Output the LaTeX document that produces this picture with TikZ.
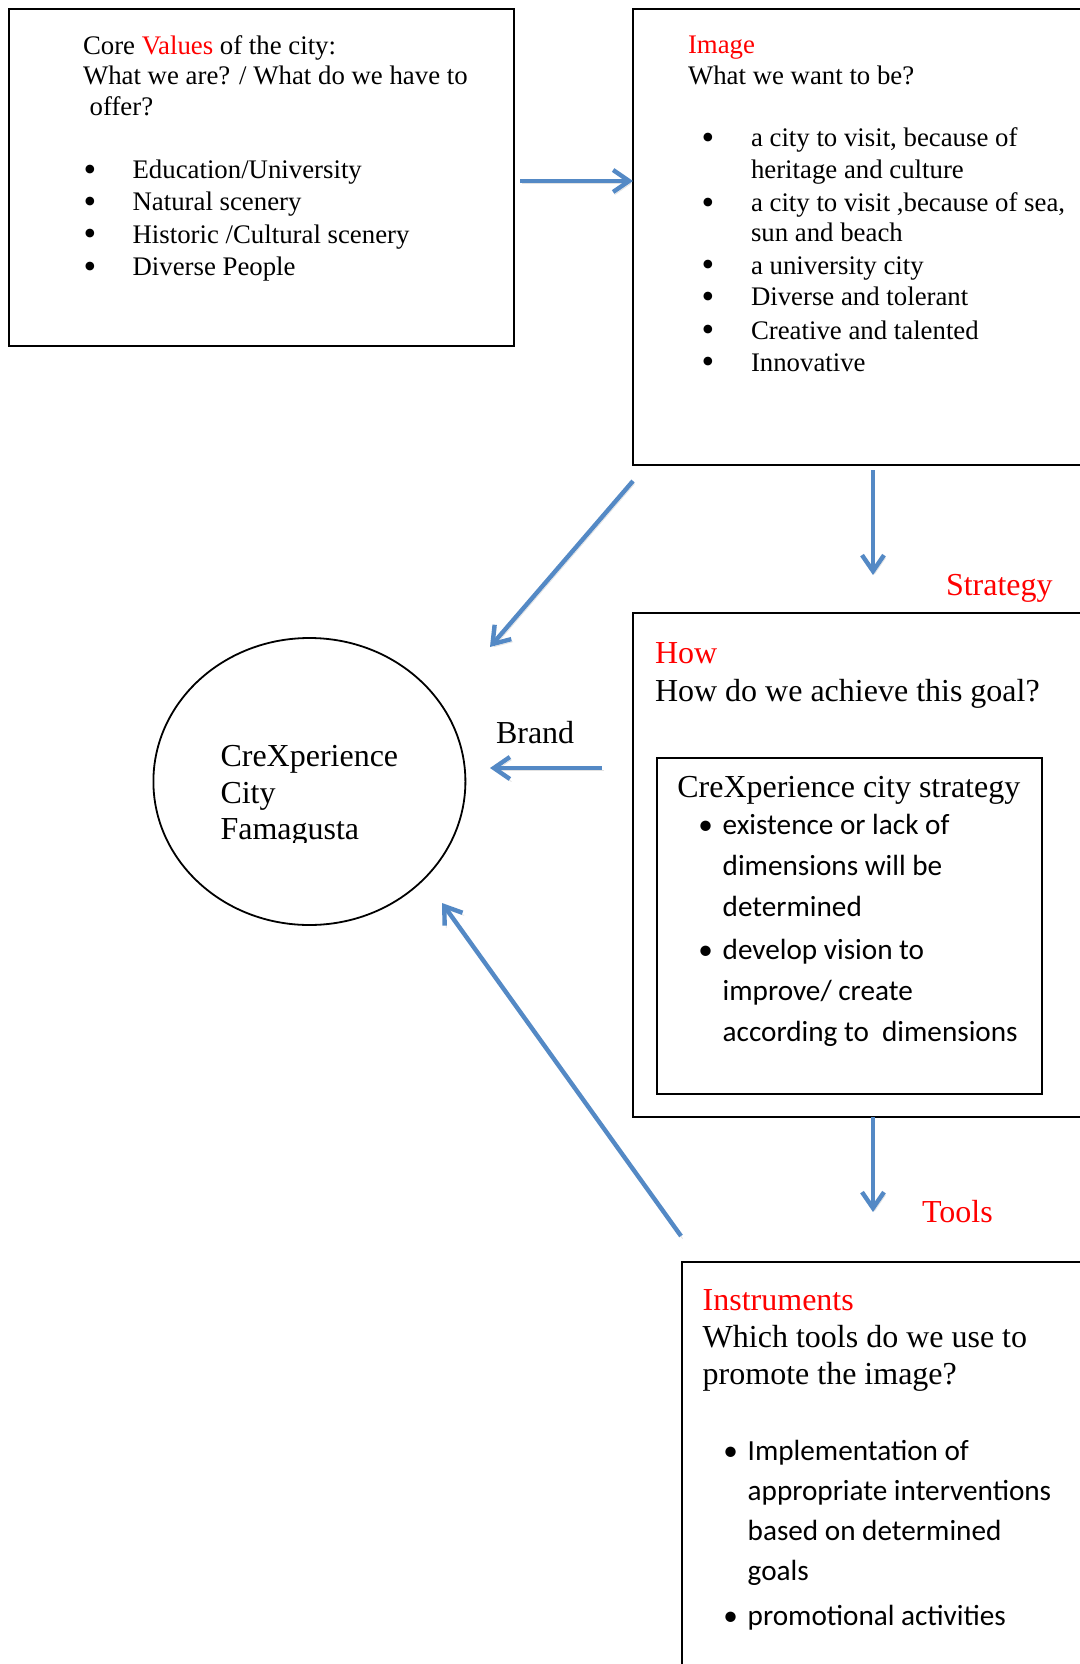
\documentclass[tikz,border=0pt]{standalone}
\usepackage{fontspec}
\setmainfont{Liberation Serif}
\newfontfamily\calfont{Carlito}
\usetikzlibrary{arrows.meta,shapes.geometric,fit}
\definecolor{flowblue}{RGB}{84,137,197}
\definecolor{keyred}{RGB}{255,0,0}
% bullet centred at half of #1 to the left of the line start
\newcommand\bulletat[1]{\llap{\makebox[#1][c]{\textbullet}}}
% larger bullet for the serif lists
\newcommand\bigbulletat[1]{\llap{\makebox[#1][c]{\smash{\raisebox{-1.2pt}{\scalebox{1.35}{\textbullet}}}}}}
\newcommand\kw[1]{\textcolor{keyred}{#1}}

\tikzset{
  txt/.style={anchor=base west, inner sep=0pt, outer sep=0pt},
  smallserif/.style={txt, font=\fontsize{13.4}{16}\selectfont},
  bigserif/.style={txt, font=\fontsize{16}{19}\selectfont},
  sansline/.style={txt, font=\calfont\fontsize{14.6}{17}\selectfont},
  frame/.style={draw=black, line width=1pt, inner sep=0pt, outer sep=0pt},
  flow/.style={draw=flowblue, line width=2.2pt,
    -{Straight Barb[length=8pt,width=11pt]},
    preaction={draw=black!45, opacity=0.25,
      transform canvas={shift={(0.8pt,-1.3pt)}}}},
}

\begin{document}
\begin{tikzpicture}[x=0.5pt,y=-0.5pt]
\useasboundingbox (0,0) rectangle (1080,1664);
\fill[white] (0,0) rectangle (1080,1664);
\clip (0,0) rectangle (1080,1664);

% ---- frames ----
\node[frame, fit={(8.6,9.3) (514,346)}] (values) {};
\node[frame, fit={(633,9.3) (1110,465)}] (image) {};
\node[frame, fit={(633,613) (1110,1117)}] (how) {};
\node[frame, fit={(657.3,758) (1041.7,1093.5)}] (plan) {};
\node[frame, fit={(681.7,1262) (1110,1720)}] (instr) {};
\node[draw=black, ellipse, line width=0.9pt, inner sep=0pt,
      minimum width=156pt, minimum height=143.5pt] (city) at (309.4,781.5) {};

% ---- core values ----
\node[smallserif] (v1) at (83,55) {Core \kw{Values} of the city:};
\node[smallserif] (v2) at (83,85) {What we are? / What do we have to};
\node[smallserif] (v3) at (89.7,116) {offer?};
\node[smallserif] (v4) at (132.6,179) {\bigbulletat{42.6pt}Education/University};
\node[smallserif] (v5) at (132.6,211) {\bigbulletat{42.6pt}Natural scenery};
\node[smallserif] (v6) at (132.6,243) {\bigbulletat{42.6pt}Historic /Cultural scenery};
\node[smallserif] (v7) at (132.6,276) {\bigbulletat{42.6pt}Diverse People};

% ---- image ----
\node[smallserif] (i1) at (688,54) {\kw{Image}};
\node[smallserif] (i2) at (688,85) {What we want to be?};
\node[smallserif] (i3) at (751,147) {\bigbulletat{43pt}a city to visit, because of};
\node[smallserif] (i4) at (751,179) {heritage and culture};
\node[smallserif] (i5) at (751,212) {\bigbulletat{43pt}a city to visit ,because of sea,};
\node[smallserif] (i6) at (751,242) {sun and beach};
\node[smallserif] (i7) at (751,274) {\bigbulletat{43pt}a university city};
\node[smallserif] (i8) at (751,306) {\bigbulletat{43pt}Diverse and tolerant};
\node[smallserif] (i9) at (751,339) {\bigbulletat{43pt}Creative and talented};
\node[smallserif] (i10) at (751,371) {\bigbulletat{43pt}Innovative};

% ---- strategy ----
\node[bigserif] (strat) at (946,595) {\kw{Strategy}};
\node[bigserif] (h1) at (655,663) {\kw{How}};
\node[bigserif] (h2) at (655,701) {How do we achieve this goal?};
\node[bigserif] (p1) at (677.3,797) {CreXperience city strategy};
\node[sansline] (p2) at (722.7,834.5) {\bulletat{17pt}existence or lack of};
\node[sansline] (p3) at (722.7,875) {dimensions will be};
\node[sansline] (p4) at (722.7,916) {determined};
\node[sansline] (p5) at (722.7,959.6) {\bulletat{17pt}develop vision to};
\node[sansline] (p6) at (722.7,1000) {improve/ create};
\node[sansline] (p7) at (722.7,1041) {according to\ \ dimensions};

% ---- tools ----
\node[bigserif] (tools) at (922,1222) {\kw{Tools}};
\node[bigserif] (t1) at (702.7,1310) {\kw{Instruments}};
\node[bigserif] (t2) at (702.7,1347.5) {Which tools do we use to};
\node[bigserif] (t3) at (702.7,1384) {promote the image?};
\node[sansline] (t4) at (747.7,1460) {\bulletat{17pt}Implementation of};
\node[sansline] (t5) at (747.7,1500) {appropriate interventions};
\node[sansline] (t6) at (747.7,1540.6) {based on determined};
\node[sansline] (t7) at (747.7,1580) {goals};
\node[sansline] (t8) at (747.7,1625) {\bulletat{17pt}promotional activities};

% ---- brand ----
\begin{scope}
  \clip (150,700) rectangle (470,842);
  \node[bigserif] (c1) at (220.5,766) {CreXperience};
  \node[bigserif] (c2) at (220.5,803) {City};
  \node[bigserif] (c3) at (220.5,839) {Famagusta};
\end{scope}
\node[bigserif] (brand) at (496,743) {Brand};

% ---- connectors ----
\coordinate (a1s) at (520,181);   \coordinate (a1e) at (633,181);
\coordinate (a2s) at (873,470);   \coordinate (a2e) at (873,575);
\coordinate (a3s) at (633,481);   \coordinate (a3e) at (490,647);
\coordinate (a4s) at (602,768);   \coordinate (a4e) at (490,768);
\coordinate (a5s) at (873,1117);  \coordinate (a5e) at (873,1212);
\coordinate (a6s) at (681,1236);  \coordinate (a6e) at (442,903);
\draw[flow] (a1s) -- (a1e);
\draw[flow] (a2s) -- (a2e);
\draw[flow] (a3s) -- (a3e);
\draw[flow] (a4s) -- (a4e);
\draw[flow] (a5s) -- (a5e);
\draw[flow] (a6s) -- (a6e);
\end{tikzpicture}
\end{document}
